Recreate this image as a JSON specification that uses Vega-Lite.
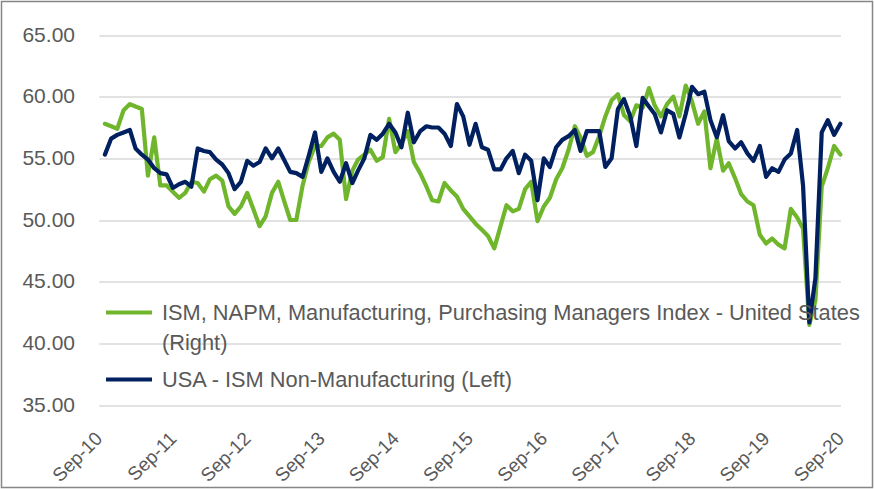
{
 "$schema": "https://vega.github.io/schema/vega-lite/v6.json",
 "width": 871, "height": 486,
 "autosize": {"type": "none"},
 "padding": {"left": 1.5, "top": 1.5, "right": 1.5, "bottom": 1.5},
 "background": "white",
 "config": {
   "view": {"stroke": "#868686", "strokeWidth": 1.5},
   "font": "Liberation Sans",
   "style": {"guide-label": {"lineHeight": 30}}
 },
 "data": {"values": [
  {"date":"2010/10/01","pmi":57.8,"nmi":55.3},
  {"date":"2010/11/01","pmi":57.6,"nmi":56.6},
  {"date":"2010/12/01","pmi":57.4,"nmi":56.9},
  {"date":"2011/01/01","pmi":58.9,"nmi":57.1},
  {"date":"2011/02/01","pmi":59.4,"nmi":57.3},
  {"date":"2011/03/01","pmi":59.2,"nmi":55.8},
  {"date":"2011/04/01","pmi":59.0,"nmi":55.3},
  {"date":"2011/05/01","pmi":53.6,"nmi":54.9},
  {"date":"2011/06/01","pmi":56.7,"nmi":54.2},
  {"date":"2011/07/01","pmi":52.8,"nmi":53.8},
  {"date":"2011/08/01","pmi":52.8,"nmi":53.7},
  {"date":"2011/09/01","pmi":52.3,"nmi":52.6},
  {"date":"2011/10/01","pmi":51.8,"nmi":52.9},
  {"date":"2011/11/01","pmi":52.2,"nmi":53.1},
  {"date":"2011/12/01","pmi":53.1,"nmi":52.7},
  {"date":"2012/01/01","pmi":53.0,"nmi":55.8},
  {"date":"2012/02/01","pmi":52.3,"nmi":55.6},
  {"date":"2012/03/01","pmi":53.3,"nmi":55.5},
  {"date":"2012/04/01","pmi":53.6,"nmi":54.9},
  {"date":"2012/05/01","pmi":53.2,"nmi":54.5},
  {"date":"2012/06/01","pmi":51.1,"nmi":53.8},
  {"date":"2012/07/01","pmi":50.5,"nmi":52.5},
  {"date":"2012/08/01","pmi":51.1,"nmi":53.1},
  {"date":"2012/09/01","pmi":52.2,"nmi":54.8},
  {"date":"2012/10/01","pmi":50.9,"nmi":54.4},
  {"date":"2012/11/01","pmi":49.5,"nmi":54.7},
  {"date":"2012/12/01","pmi":50.3,"nmi":55.8},
  {"date":"2013/01/01","pmi":52.2,"nmi":55.0},
  {"date":"2013/02/01","pmi":53.1,"nmi":55.8},
  {"date":"2013/03/01","pmi":51.6,"nmi":54.9},
  {"date":"2013/04/01","pmi":50.0,"nmi":53.9},
  {"date":"2013/05/01","pmi":50.0,"nmi":53.8},
  {"date":"2013/06/01","pmi":52.8,"nmi":53.5},
  {"date":"2013/07/01","pmi":54.7,"nmi":55.2},
  {"date":"2013/08/01","pmi":56.0,"nmi":57.1},
  {"date":"2013/09/01","pmi":56.0,"nmi":53.9},
  {"date":"2013/10/01","pmi":56.7,"nmi":55.0},
  {"date":"2013/11/01","pmi":57.0,"nmi":53.9},
  {"date":"2013/12/01","pmi":56.5,"nmi":53.1},
  {"date":"2014/01/01","pmi":51.7,"nmi":54.6},
  {"date":"2014/02/01","pmi":54.0,"nmi":53.0},
  {"date":"2014/03/01","pmi":54.9,"nmi":54.0},
  {"date":"2014/04/01","pmi":55.3,"nmi":55.0},
  {"date":"2014/05/01","pmi":55.7,"nmi":56.9},
  {"date":"2014/06/01","pmi":54.8,"nmi":56.5},
  {"date":"2014/07/01","pmi":55.1,"nmi":57.0},
  {"date":"2014/08/01","pmi":58.2,"nmi":57.8},
  {"date":"2014/09/01","pmi":55.5,"nmi":57.1},
  {"date":"2014/10/01","pmi":56.2,"nmi":55.9},
  {"date":"2014/11/01","pmi":57.2,"nmi":58.7},
  {"date":"2014/12/01","pmi":54.7,"nmi":56.3},
  {"date":"2015/01/01","pmi":53.8,"nmi":57.2},
  {"date":"2015/02/01","pmi":52.7,"nmi":57.6},
  {"date":"2015/03/01","pmi":51.6,"nmi":57.5},
  {"date":"2015/04/01","pmi":51.5,"nmi":57.5},
  {"date":"2015/05/01","pmi":53.0,"nmi":57.0},
  {"date":"2015/06/01","pmi":52.4,"nmi":56.0},
  {"date":"2015/07/01","pmi":51.9,"nmi":59.4},
  {"date":"2015/08/01","pmi":50.9,"nmi":58.4},
  {"date":"2015/09/01","pmi":50.3,"nmi":56.1},
  {"date":"2015/10/01","pmi":49.7,"nmi":57.8},
  {"date":"2015/11/01","pmi":49.2,"nmi":55.9},
  {"date":"2015/12/01","pmi":48.7,"nmi":55.7},
  {"date":"2016/01/01","pmi":47.7,"nmi":54.1},
  {"date":"2016/02/01","pmi":49.5,"nmi":54.1},
  {"date":"2016/03/01","pmi":51.2,"nmi":55.0},
  {"date":"2016/04/01","pmi":50.7,"nmi":55.6},
  {"date":"2016/05/01","pmi":50.9,"nmi":53.8},
  {"date":"2016/06/01","pmi":52.5,"nmi":55.3},
  {"date":"2016/07/01","pmi":53.1,"nmi":54.8},
  {"date":"2016/08/01","pmi":49.9,"nmi":51.6},
  {"date":"2016/09/01","pmi":51.1,"nmi":55.0},
  {"date":"2016/10/01","pmi":51.8,"nmi":54.3},
  {"date":"2016/11/01","pmi":53.3,"nmi":55.9},
  {"date":"2016/12/01","pmi":54.2,"nmi":56.5},
  {"date":"2017/01/01","pmi":55.7,"nmi":56.8},
  {"date":"2017/02/01","pmi":57.6,"nmi":57.3},
  {"date":"2017/03/01","pmi":56.7,"nmi":55.6},
  {"date":"2017/04/01","pmi":55.2,"nmi":57.2},
  {"date":"2017/05/01","pmi":55.5,"nmi":57.2},
  {"date":"2017/06/01","pmi":56.8,"nmi":57.2},
  {"date":"2017/07/01","pmi":58.4,"nmi":54.3},
  {"date":"2017/08/01","pmi":59.7,"nmi":55.0},
  {"date":"2017/09/01","pmi":60.2,"nmi":59.0},
  {"date":"2017/10/01","pmi":58.5,"nmi":59.8},
  {"date":"2017/11/01","pmi":58.0,"nmi":58.4},
  {"date":"2017/12/01","pmi":59.3,"nmi":56.0},
  {"date":"2018/01/01","pmi":59.1,"nmi":59.9},
  {"date":"2018/02/01","pmi":60.7,"nmi":59.2},
  {"date":"2018/03/01","pmi":59.3,"nmi":58.6},
  {"date":"2018/04/01","pmi":58.4,"nmi":57.1},
  {"date":"2018/05/01","pmi":59.4,"nmi":58.9},
  {"date":"2018/06/01","pmi":60.0,"nmi":58.6},
  {"date":"2018/07/01","pmi":58.4,"nmi":56.7},
  {"date":"2018/08/01","pmi":60.9,"nmi":58.6},
  {"date":"2018/09/01","pmi":59.6,"nmi":60.8},
  {"date":"2018/10/01","pmi":57.8,"nmi":60.2},
  {"date":"2018/11/01","pmi":58.8,"nmi":60.4},
  {"date":"2018/12/01","pmi":54.2,"nmi":58.1},
  {"date":"2019/01/01","pmi":56.6,"nmi":56.7},
  {"date":"2019/02/01","pmi":54.0,"nmi":58.5},
  {"date":"2019/03/01","pmi":54.6,"nmi":56.4},
  {"date":"2019/04/01","pmi":53.4,"nmi":55.8},
  {"date":"2019/05/01","pmi":52.1,"nmi":56.3},
  {"date":"2019/06/01","pmi":51.5,"nmi":55.4},
  {"date":"2019/07/01","pmi":51.2,"nmi":54.8},
  {"date":"2019/08/01","pmi":48.8,"nmi":56.0},
  {"date":"2019/09/01","pmi":48.1,"nmi":53.5},
  {"date":"2019/10/01","pmi":48.5,"nmi":54.2},
  {"date":"2019/11/01","pmi":48.0,"nmi":53.9},
  {"date":"2019/12/01","pmi":47.7,"nmi":54.9},
  {"date":"2020/01/01","pmi":50.9,"nmi":55.4},
  {"date":"2020/02/01","pmi":50.2,"nmi":57.3},
  {"date":"2020/03/01","pmi":49.3,"nmi":52.8},
  {"date":"2020/04/01","pmi":41.5,"nmi":41.7},
  {"date":"2020/05/01","pmi":43.5,"nmi":45.3},
  {"date":"2020/06/01","pmi":52.7,"nmi":57.1},
  {"date":"2020/07/01","pmi":54.2,"nmi":58.1},
  {"date":"2020/08/01","pmi":56.0,"nmi":56.9},
  {"date":"2020/09/01","pmi":55.3,"nmi":57.8}
 ]},
 "transform": [{"fold": ["pmi", "nmi"], "as": ["series", "value"]}],
 "mark": {"type": "line", "strokeWidth": 4.2, "strokeJoin": "round", "strokeCap": "round"},
 "encoding": {
  "x": {"field": "date", "type": "temporal",
   "scale": {"domain": [{"year": 2010, "month": 9, "date": 1}, {"year": 2020, "month": 9, "date": 1}], "range": [97.3, 838.9]},
   "axis": {"values": [
     {"year": 2010, "month": 9, "date": 1}, {"year": 2011, "month": 9, "date": 1}, {"year": 2012, "month": 9, "date": 1},
     {"year": 2013, "month": 9, "date": 1}, {"year": 2014, "month": 9, "date": 1}, {"year": 2015, "month": 9, "date": 1},
     {"year": 2016, "month": 9, "date": 1}, {"year": 2017, "month": 9, "date": 1}, {"year": 2018, "month": 9, "date": 1},
     {"year": 2019, "month": 9, "date": 1}, {"year": 2020, "month": 9, "date": 1}],
    "format": "%b-%y", "labelAngle": -45, "labelAlign": "right", "labelBaseline": "middle", "orient": "bottom", "offset": -82.5, "labelPadding": 30,
    "ticks": false, "domain": false, "grid": false, "title": null,
    "labelFontSize": 19, "labelColor": "#595959", "labelFont": "Liberation Sans"}
  },
  "y": {"field": "value", "type": "quantitative",
   "scale": {"domain": [35, 65], "range": [403.5, 33.5], "nice": false, "zero": false},
   "axis": {"values": [35, 40, 45, 50, 55, 60, 65], "format": ".2f", "offset": -95, "labelPadding": 22,
    "ticks": false, "domain": false, "grid": true, "gridColor": "#d9d9d9", "gridWidth": 1.5, "title": null,
    "labelFontSize": 21, "labelColor": "#595959", "labelFont": "Liberation Sans"}
  },
  "color": {"field": "series", "type": "nominal", "sort": ["pmi", "nmi"],
   "scale": {"domain": ["pmi", "nmi"], "range": ["#70b62c", "#002060"]},
   "legend": {"orient": "none", "legendX": 102.5, "legendY": 286, "title": null,
    "symbolType": "stroke", "symbolSize": 2116, "symbolStrokeWidth": 4,
    "labelFontSize": 21.8, "labelColor": "#595959", "labelFont": "Liberation Sans", "labelLimit": 800, "labelOffset": 8,
    "rowPadding": -3, "padding": 0,
    "labelExpr": "datum.label == 'pmi' ? ['ISM, NAPM, Manufacturing, Purchasing Managers Index - United States', '(Right)'] : 'USA - ISM Non-Manufacturing (Left)'"}
  }
 }
}
